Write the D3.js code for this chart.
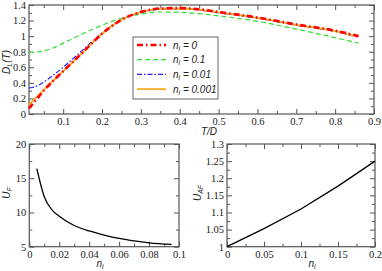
<!DOCTYPE html>
<html>
<head>
<meta charset="utf-8">
<script src="https://cdn.jsdelivr.net/npm/d3@7"></script>
<style>
  body { margin: 0; background: #fff; }
  .lab { font-family: "Liberation Sans", Arial, sans-serif; font-style: italic; font-size: 10px; fill: #222; }
</style>
</head>
<body>
<svg width="382" height="271"></svg>
<script>
// top panel: D_L(T) vs T/D
var T = [0.012, 0.02, 0.03, 0.05, 0.075, 0.1, 0.125, 0.15, 0.2, 0.25, 0.3, 0.35, 0.4, 0.45, 0.5, 0.6, 0.7, 0.8, 0.86];
var D_n0     = [0.07, 0.12, 0.18, 0.30, 0.43, 0.55, 0.67, 0.79, 1.03, 1.21, 1.31, 1.355, 1.36, 1.345, 1.31, 1.24, 1.15, 1.07, 1.0];
var D_n01    = [0.79, 0.79, 0.795, 0.81, 0.85, 0.91, 0.97, 1.03, 1.14, 1.23, 1.285, 1.31, 1.305, 1.29, 1.26, 1.19, 1.09, 0.98, 0.91];
var D_n001   = [0.335, 0.34, 0.355, 0.41, 0.50, 0.60, 0.71, 0.82, 1.04, 1.21, 1.305, 1.345, 1.35, 1.335, 1.30, 1.23, 1.14, 1.06, 0.985];
var D_n0001  = [0.12, 0.16, 0.21, 0.31, 0.43, 0.55, 0.67, 0.79, 1.03, 1.21, 1.31, 1.35, 1.355, 1.34, 1.305, 1.235, 1.145, 1.065, 0.995];
var legendLabels = ["0", "0.1", "0.01", "0.001"];

// bottom left: U_F vs n_i
var nF = [0.005, 0.01, 0.015, 0.02, 0.03, 0.04, 0.05, 0.06, 0.07, 0.08, 0.095];
var UF = [16.4, 12.3, 10.4, 9.45, 8.1, 7.3, 6.7, 6.2, 5.85, 5.57, 5.33];

// bottom right: U_AF vs n_i
var nAF = [0, 0.05, 0.1, 0.15, 0.2];
var UAF = [1.0, 1.053, 1.11, 1.177, 1.25];

var svg = d3.select("svg");
var fmt = function(d) { return d3.format("~g")(d); };

function panel(x, y, xt, xm, yt, ym) {
    var g = svg.append("g");
    var x0 = x.range()[0], x1 = x.range()[1], y0 = y.range()[0], y1 = y.range()[1];

    g.append("g").attr("transform", "translate(0," + y0 + ")")
        .call(d3.axisBottom(x).tickValues(xt).tickSize(-5).tickPadding(4).tickFormat(fmt));
    g.append("g").attr("transform", "translate(0," + y0 + ")")
        .call(d3.axisBottom(x).tickValues(xm).tickSize(-3).tickFormat(""));
    g.append("g").attr("transform", "translate(0," + y1 + ")")
        .call(d3.axisTop(x).tickValues(xt).tickSize(-5).tickFormat(""));
    g.append("g").attr("transform", "translate(0," + y1 + ")")
        .call(d3.axisTop(x).tickValues(xm).tickSize(-3).tickFormat(""));

    g.append("g").attr("transform", "translate(" + x0 + ",0)")
        .call(d3.axisLeft(y).tickValues(yt).tickSize(-5).tickPadding(3).tickFormat(fmt));
    g.append("g").attr("transform", "translate(" + x0 + ",0)")
        .call(d3.axisLeft(y).tickValues(ym).tickSize(-3).tickFormat(""));
    g.append("g").attr("transform", "translate(" + x1 + ",0)")
        .call(d3.axisRight(y).tickValues(yt).tickSize(-5).tickFormat(""));
    g.append("g").attr("transform", "translate(" + x1 + ",0)")
        .call(d3.axisRight(y).tickValues(ym).tickSize(-3).tickFormat(""));

    g.selectAll(".domain").remove();
    g.selectAll(".tick line").attr("stroke", "#555");
    g.selectAll(".tick text")
        .style("font-family", "'Liberation Serif', 'DejaVu Serif', serif")
        .style("font-size", "10.5px")
        .style("fill", "#222");

    g.append("rect")
        .attr("x", x0).attr("y", y1)
        .attr("width", x1 - x0).attr("height", y0 - y1)
        .attr("fill", "none").attr("stroke", "#555").attr("stroke-width", 1.2);
    return g;
}

function ylabel(x, y, main, sub, extra) {
    var t = svg.append("text").attr("class", "lab")
        .attr("transform", "translate(" + x + "," + y + ") rotate(-90)")
        .attr("text-anchor", "middle");
    t.append("tspan").text(main);
    t.append("tspan").attr("font-size", "7px").attr("dy", 2).text(sub);
    if (extra) t.append("tspan").attr("dy", -2).text(extra);
}

function nlabel(x, y) {
    var t = svg.append("text").attr("class", "lab").attr("x", x).attr("y", y).attr("text-anchor", "middle");
    t.append("tspan").text("n");
    t.append("tspan").attr("font-size", "7px").attr("dy", 2).text("i");
}

// ---- top panel
var xT = d3.scaleLinear().domain([0.012, 0.9]).range([29, 374]);
var yT = d3.scaleLinear().domain([0, 1.4]).range([114, 5]);
panel(xT, yT,
    d3.range(1, 10).map(function(i) { return i / 10; }),
    d3.range(1, 18, 2).map(function(i) { return i / 20; }),
    d3.range(0, 8).map(function(i) { return i / 5; }),
    d3.range(1, 14, 2).map(function(i) { return i / 10; }));

var series = [
    { v: D_n0,    color: "#ff0000", w: 2.6, dash: "6,3,1.5,3" },
    { v: D_n01,   color: "#33dd33", w: 1.2, dash: "5,3" },
    { v: D_n001,  color: "#2222ff", w: 1.2, dash: "5,2,1.5,2" },
    { v: D_n0001, color: "#ffaa22", w: 1.8, dash: null }
];
var lineT = d3.line().curve(d3.curveMonotoneX);
// draw order: green, blue, orange, red on top
[1, 2, 3, 0].forEach(function(k) {
    var s = series[k];
    svg.append("path")
        .attr("d", lineT(T.map(function(t, i) { return [xT(t), yT(s.v[i])]; })))
        .attr("fill", "none").attr("stroke", s.color).attr("stroke-width", s.w)
        .attr("stroke-dasharray", s.dash);
});

svg.append("text").attr("class", "lab").attr("x", 209).attr("y", 135)
    .attr("text-anchor", "middle").text("T/D");
ylabel(10, 62, "D", "L", "(T)");

// legend
var lg = svg.append("g").attr("transform", "translate(133,37)");
lg.append("rect").attr("width", 85).attr("height", 62)
    .attr("fill", "#fff").attr("stroke", "#666").attr("stroke-width", 1);
series.forEach(function(s, i) {
    var yy = 8 + i * 14.7;
    lg.append("line").attr("x1", 4).attr("x2", 33).attr("y1", yy).attr("y2", yy)
        .attr("stroke", s.color).attr("stroke-width", s.w).attr("stroke-dasharray", s.dash);
    var t = lg.append("text").attr("class", "lab").attr("x", 40).attr("y", yy + 3.5);
    t.append("tspan").text("n");
    t.append("tspan").attr("font-size", "7px").attr("dy", 2).text("i");
    t.append("tspan").attr("dy", -2).text(" = " + legendLabels[i]);
});

// ---- bottom left
var xF = d3.scaleLinear().domain([0, 0.1]).range([29.3, 179]);
var yF = d3.scaleLinear().domain([5, 20]).range([246.7, 144]);
panel(xF, yF,
    [0, 0.02, 0.04, 0.06, 0.08, 0.1],
    [0.01, 0.03, 0.05, 0.07, 0.09],
    [5, 10, 15, 20],
    [7.5, 12.5, 17.5]);
svg.append("path")
    .attr("d", d3.line().curve(d3.curveMonotoneX)(nF.map(function(n, i) { return [xF(n), yF(UF[i])]; })))
    .attr("fill", "none").attr("stroke", "#000").attr("stroke-width", 1.3);
ylabel(10, 193, "U", "F");
nlabel(100, 267);

// ---- bottom right
var xA = d3.scaleLinear().domain([0, 0.2]).range([227, 375]);
var yA = d3.scaleLinear().domain([1, 1.3]).range([246.7, 144]);
panel(xA, yA,
    [0, 0.05, 0.1, 0.15, 0.2],
    [0.025, 0.075, 0.125, 0.175],
    [1, 1.05, 1.1, 1.15, 1.2, 1.25, 1.3],
    [1.025, 1.075, 1.125, 1.175, 1.225, 1.275]);
svg.append("path")
    .attr("d", d3.line()(nAF.map(function(n, i) { return [xA(n), yA(UAF[i])]; })))
    .attr("fill", "none").attr("stroke", "#000").attr("stroke-width", 1.3);
ylabel(201, 193, "U", "AF");
nlabel(312, 267);
</script>
</body>
</html>
